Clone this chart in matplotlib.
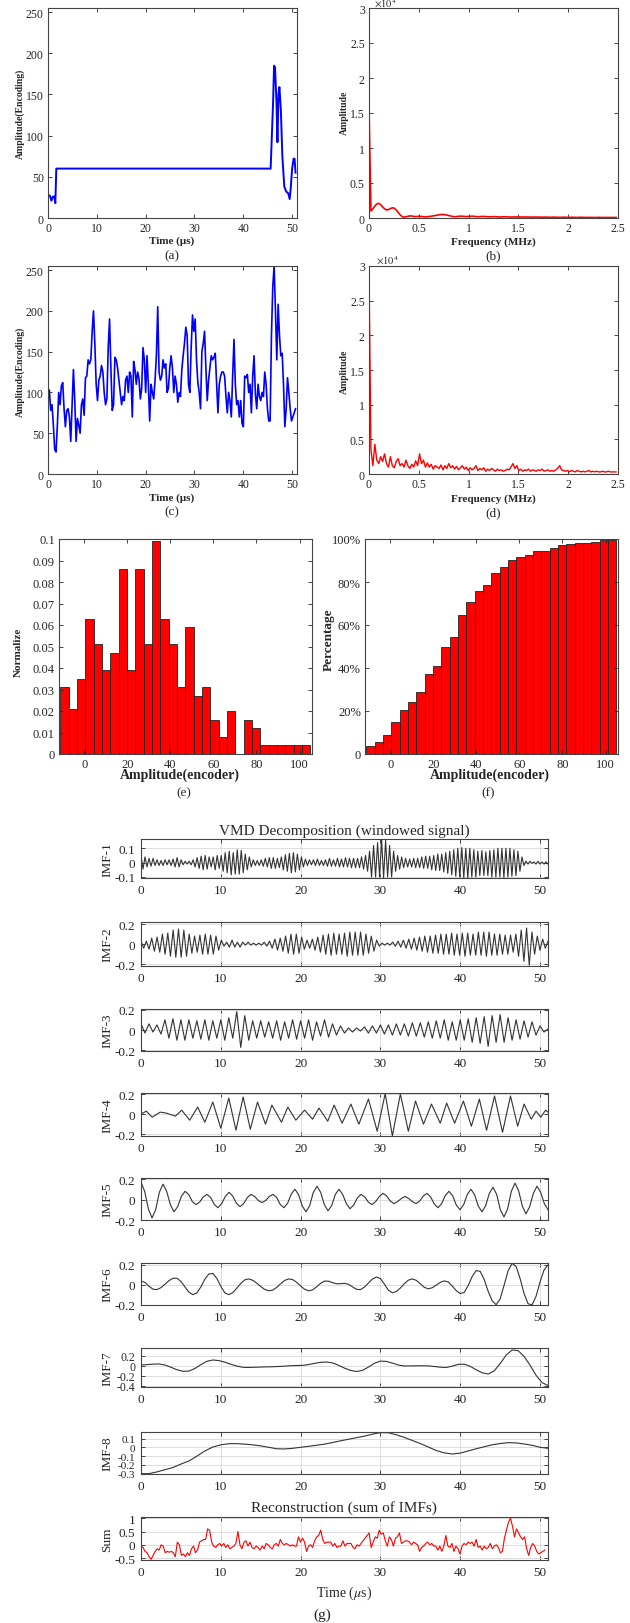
import numpy as np
import matplotlib
matplotlib.use('Agg')
import matplotlib.pyplot as plt
from matplotlib.ticker import FuncFormatter

plt.rcParams['font.family'] = ['Liberation Serif', 'DejaVu Serif']
plt.rcParams['mathtext.fontset'] = 'stix'
plt.rcParams['axes.unicode_minus'] = False

# ---- raw signal (window 1), encoder units
raw_t = [0, 0.4, 0.7, 1.0, 1.3, 1.5, 1.7, 45.6, 46.1, 46.3, 46.5, 46.8, 47.0, 47.2, 47.4, 47.7,
         48.0, 48.4, 48.8, 49.2, 49.5, 49.7, 50.0, 50.3, 50.5, 50.7]
raw_v = [28, 27, 21, 26, 26, 18, 60, 60, 140, 185, 183, 140, 92, 150, 159, 130,
         75, 38, 32, 30, 23, 35, 60, 72, 72, 55]

# ---- windowed signal, encoder units
win_v = [100, 103, 78, 85, 60, 30, 27, 60, 100, 85, 108, 112, 80, 58, 78, 80, 70, 40, 85, 128,
         90, 40, 68, 60, 50, 85, 92, 72, 118, 120, 140, 135, 140, 175, 200, 160, 110, 90, 115, 120,
         133, 125, 100, 85, 92, 155, 190, 130, 78, 85, 143, 140, 130, 115, 100, 85, 95, 90, 115, 120,
         100, 125, 120, 70, 138, 128, 110, 125, 117, 92, 105, 155, 140, 100, 145, 110, 65, 110, 100, 92,
         115, 145, 205, 125, 115, 120, 140, 130, 135, 100, 105, 130, 145, 130, 100, 120, 110, 88, 100, 95,
         128, 145, 160, 180, 170, 110, 100, 155, 195, 175, 190, 140, 112, 100, 80, 150, 160, 175, 130, 90,
         115, 130, 145, 140, 143, 148, 110, 75, 110, 120, 125, 125, 120, 95, 75, 100, 90, 70, 120, 165,
         110, 85, 90, 70, 90, 62, 58, 120, 118, 122, 100, 110, 75, 120, 145, 98, 80, 110, 95, 90,
         100, 95, 125, 110, 80, 65, 65, 170, 230, 255, 200, 140, 208, 170, 145, 148, 110, 58, 80, 118,
         100, 80, 65, 70, 75, 80]

# ---- amplitude spectra (x 1e4), bins of 5/256 MHz
spec_raw = [1.58, 0.10, 0.13, 0.17, 0.20, 0.21, 0.19, 0.16, 0.13, 0.115, 0.12, 0.135, 0.145, 0.14, 0.115, 0.08,
            0.045, 0.02, 0.012, 0.018, 0.025, 0.03, 0.028, 0.022, 0.02, 0.022, 0.025, 0.022, 0.018, 0.015, 0.018, 0.022,
            0.025, 0.03, 0.035, 0.04, 0.045, 0.05, 0.05, 0.048, 0.042, 0.035, 0.028, 0.022, 0.018, 0.02, 0.024, 0.026,
            0.025, 0.022, 0.02, 0.022, 0.025, 0.026, 0.024, 0.02, 0.018, 0.02, 0.022, 0.022, 0.02, 0.017, 0.016, 0.018,
            0.02, 0.019, 0.016, 0.014, 0.015, 0.017, 0.018, 0.016, 0.014, 0.013, 0.015, 0.016, 0.015, 0.013, 0.012, 0.013,
            0.015, 0.014, 0.012, 0.011, 0.012, 0.014, 0.013, 0.011, 0.01, 0.011, 0.013, 0.012, 0.01, 0.01, 0.011, 0.012,
            0.011, 0.01, 0.009, 0.01, 0.011, 0.01, 0.009, 0.009, 0.01, 0.01, 0.009, 0.008, 0.009, 0.01, 0.009, 0.008,
            0.008, 0.009, 0.009, 0.008, 0.007, 0.008, 0.009, 0.008, 0.007, 0.007, 0.008, 0.008, 0.007, 0.007, 0.008, 0.008]
spec_win = [2.90, 0.35, 0.12, 0.43, 0.20, 0.15, 0.25, 0.18, 0.29, 0.15, 0.10, 0.25, 0.12, 0.09, 0.18, 0.22,
            0.12, 0.15, 0.10, 0.20, 0.12, 0.08, 0.14, 0.10, 0.19, 0.12, 0.29, 0.15, 0.20, 0.10, 0.16, 0.10,
            0.14, 0.07, 0.12, 0.10, 0.08, 0.13, 0.06, 0.12, 0.08, 0.15, 0.09, 0.12, 0.07, 0.11, 0.06, 0.09,
            0.12, 0.07, 0.10, 0.05, 0.09, 0.06, 0.08, 0.12, 0.05, 0.08, 0.06, 0.09, 0.04, 0.07, 0.05, 0.08,
            0.06, 0.04, 0.07, 0.05, 0.06, 0.04, 0.05, 0.07, 0.06, 0.10, 0.15, 0.08, 0.12, 0.05, 0.07, 0.04,
            0.06, 0.05, 0.07, 0.04, 0.06, 0.05, 0.04, 0.06, 0.05, 0.07, 0.04, 0.05, 0.06, 0.04, 0.05, 0.04,
            0.06, 0.08, 0.12, 0.06, 0.05, 0.04, 0.05, 0.03, 0.05, 0.04, 0.03, 0.05, 0.04, 0.03, 0.04, 0.03,
            0.04, 0.05, 0.03, 0.04, 0.03, 0.04, 0.03, 0.03, 0.04, 0.03, 0.03, 0.04, 0.03, 0.03, 0.03, 0.03]

# ---- histogram of windowed amplitudes (30 bins)
hist_norm = [0.031, 0.021, 0.035, 0.063, 0.051, 0.039, 0.047, 0.086, 0.039, 0.086,
             0.051, 0.099, 0.063, 0.051, 0.031, 0.059, 0.027, 0.031, 0.016, 0.008,
             0.020, 0.0, 0.016, 0.012, 0.004, 0.004, 0.004, 0.004, 0.004, 0.004]
hist_cum = [3.6, 5.4, 9.0, 15.0, 20.3, 24.0, 28.7, 37.3, 40.9, 49.7,
            54.5, 64.5, 70.7, 75.7, 78.6, 84.3, 87.1, 90.3, 91.8, 92.6,
            94.4, 94.4, 96.0, 97.1, 97.6, 98.0, 98.3, 98.8, 99.4, 99.7]

# ---- VMD modes
imf1 = [0.05, -0.045, 0.04, -0.03, 0.03, -0.025, 0.03, -0.02, 0.02, -0.02, 0.015, -0.02, 0.02, -0.015, 0.02, -0.02,
        0.025, -0.03, 0.035, -0.03, 0.02, -0.015, 0.01, -0.01, 0.01, -0.015, 0.02, -0.03, 0.035, -0.04, 0.045, -0.05,
        0.05, -0.045, 0.04, -0.03, 0.04, -0.05, 0.05, -0.04, 0.05, -0.06, 0.07, -0.07, 0.08, -0.085, 0.07, -0.08,
        0.09, -0.08, 0.085, -0.07, 0.06, -0.05, 0.04, -0.03, 0.02, -0.02, 0.015, -0.02, 0.02, -0.025, 0.03, -0.03,
        0.035, -0.04, 0.035, -0.04, 0.03, -0.035, 0.04, -0.05, 0.055, -0.06, 0.065, -0.07, 0.07, -0.065, 0.06, -0.05,
        0.04, -0.03, 0.025, -0.02, 0.02, -0.015, 0.02, -0.02, 0.025, -0.02, 0.015, -0.02, 0.02, -0.025, 0.03, -0.025,
        0.02, -0.025, 0.03, -0.03, 0.025, -0.03, 0.035, -0.03, 0.03, -0.035, 0.03, -0.035, 0.03, -0.035, 0.04, -0.045,
        0.05, -0.06, 0.08, -0.1, 0.12, -0.1, 0.14, -0.1, 0.165, -0.105, 0.155, -0.1, 0.12, -0.1, 0.08, -0.06,
        0.05, -0.045, 0.04, -0.035, 0.03, -0.03, 0.025, -0.03, 0.03, -0.035, 0.03, -0.035, 0.04, -0.04, 0.045, -0.04,
        0.045, -0.05, 0.05, -0.055, 0.06, -0.055, 0.06, -0.065, 0.07, -0.075, 0.08, -0.085, 0.09, -0.095, 0.1, -0.1,
        0.105, -0.105, 0.1, -0.107, 0.1, -0.1, 0.09, -0.1, 0.08, -0.09, 0.085, -0.09, 0.075, -0.09, 0.085, -0.1,
        0.09, -0.1, 0.1, -0.1, 0.1, -0.105, 0.1, -0.1, 0.1, -0.095, 0.09, -0.09, 0.08, -0.06, 0.04, -0.02,
        0.01, -0.01, 0.01, -0.005, 0.005, -0.01, 0.01, -0.01, 0.005, -0.01, 0.005, -0.01]
imf2 = [0.03, -0.04, 0.03, -0.05, 0.06, -0.07, 0.07, -0.08, 0.1, -0.1, 0.11, -0.12, 0.14, -0.13, 0.15,
        -0.13, 0.14, -0.12, 0.1, -0.09, 0.08, -0.08, 0.09, -0.1, 0.1, -0.1, 0.09, -0.1, 0.08, -0.06,
        0.04, -0.02, 0.02, -0.03, 0.04, -0.03, 0.02, -0.03, 0.02, -0.01, 0.02, -0.01, 0.01, -0.01, 0.01,
        -0.01, 0.02, -0.02, 0.03, -0.04, 0.05, -0.06, 0.06, -0.07, 0.08, -0.09, 0.1, -0.1, 0.1, -0.09,
        0.07, -0.05, 0.04, -0.04, 0.05, -0.06, 0.07, -0.08, 0.09, -0.1, 0.1, -0.11, 0.11, -0.1, 0.1,
        -0.1, 0.11, -0.12, 0.12, -0.11, 0.12, -0.11, 0.12, -0.11, 0.1, -0.09, 0.08, -0.07, 0.04, -0.02,
        0.01, -0.01, 0.01, -0.01, 0.02, -0.02, 0.03, -0.03, 0.04, -0.04, 0.05, -0.05, 0.06, -0.06, 0.07,
        -0.07, 0.08, -0.08, 0.08, -0.09, 0.09, -0.09, 0.1, -0.1, 0.1, -0.1, 0.11, -0.11, 0.1, -0.11,
        0.11, -0.12, 0.11, -0.11, 0.1, -0.11, 0.12, -0.11, 0.12, -0.12, 0.12, -0.11, 0.1, -0.11, 0.1,
        -0.1, 0.09, -0.1, 0.09, -0.08, 0.1, -0.12, 0.14, -0.17, 0.16, -0.21, 0.12, -0.1, 0.08, -0.06,
        0.05, -0.04, 0.03]
imf3 = [0.06, -0.03, 0.06, -0.02, 0.05, -0.04, 0.1, -0.08, 0.11, -0.1, 0.1, -0.1, 0.1, -0.08, 0.09, -0.09,
        0.1, -0.1, 0.09, -0.08, 0.1, -0.1, 0.12, -0.08, 0.18, -0.17, 0.14, -0.1, 0.09, -0.08, 0.09, -0.07,
        0.08, -0.08, 0.09, -0.1, 0.08, -0.08, 0.1, -0.09, 0.09, -0.08, 0.1, -0.1, 0.08, -0.06, 0.1, -0.07,
        0.06, -0.05, 0.04, -0.03, 0.02, -0.02, 0.02, -0.01, 0.03, -0.03, 0.04, -0.03, 0.05, -0.04, 0.05, -0.05,
        0.06, -0.05, 0.06, -0.06, 0.07, -0.06, 0.07, -0.07, 0.08, -0.08, 0.09, -0.08, 0.1, -0.1, 0.08, -0.1,
        0.1, -0.1, 0.11, -0.12, 0.12, -0.13, 0.13, -0.16, 0.14, -0.12, 0.15, -0.12, 0.12, -0.1, 0.1, -0.09,
        0.09, -0.07, 0.08, -0.05, 0.04, -0.02, 0.01]
imf4_t = [0, 0.66, 1.4, 2.4, 3.2, 4.3, 5.1, 6.1, 7.1, 8.0, 9.0, 10.0, 11.0, 11.9, 12.8, 13.7,
          14.6, 15.6, 16.4, 17.6, 18.4, 19.4, 20.5, 21.5, 22.3, 23.4, 24.2, 25.2, 26.3, 27.3, 28.5, 29.6,
          30.6, 31.5, 32.5, 33.5, 34.4, 35.4, 36.4, 37.5, 38.3, 39.3, 40.4, 41.4, 42.4, 43.3, 44.3, 45.3,
          46.3, 47.2, 48.0, 48.9, 49.5, 50.1, 50.7, 51.0]
imf4_v = [0, 0.03, -0.03, 0.02, 0.01, -0.02, 0.04, -0.06, 0.07, -0.08, 0.12, -0.14, 0.16, -0.16, 0.17, -0.15,
          0.12, -0.1, 0.09, -0.08, 0.07, -0.06, 0.04, -0.05, 0.06, -0.07, 0.09, -0.09, 0.1, -0.1, 0.15, -0.17,
          0.205, -0.215, 0.2, -0.17, 0.13, -0.1, 0.1, -0.09, 0.11, -0.09, 0.13, -0.12, 0.15, -0.16,
          0.18, -0.18, 0.18, -0.12, 0.1, -0.05, 0.03, -0.03, 0.04, 0.02]
imf5 = [0.17, 0.08, -0.09, -0.18, -0.1, 0.07, 0.15, 0.08, -0.05, -0.12, -0.07, 0.03, 0.08, 0.05, -0.02,
        -0.05, -0.025, 0.025, 0.05, 0.02, -0.05, -0.08, -0.04, 0.03, 0.07, 0.035, -0.035, -0.07, -0.04, 0.02,
        0.05, 0.03, -0.01, -0.03, -0.01, 0.03, 0.05, 0.02, -0.05, -0.08, -0.035, 0.055, 0.1, 0.045, -0.065,
        -0.12, -0.06, 0.07, 0.13, 0.07, -0.05, -0.11, -0.06, 0.05, 0.1, 0.05, -0.04, -0.09, -0.055, 0.015,
        0.05, 0.025, -0.025, -0.05, -0.02, 0.03, 0.06, 0.035, -0.015, -0.04, -0.02, 0.01, 0.03, 0.01, -0.02,
        -0.04, -0.015, 0.035, 0.06, 0.025, -0.045, -0.08, -0.04, 0.04, 0.08, 0.035, -0.055, -0.1, -0.05, 0.05,
        0.1, 0.045, -0.065, -0.12, -0.06, 0.06, 0.12, 0.05, -0.1, -0.17, -0.09, 0.08, 0.16, 0.085, -0.065,
        -0.14, -0.07, 0.06, 0.13, 0.07, -0.04, -0.1]
imf6 = [0.04, 0.024, -0.014, -0.044, -0.048, -0.028, 0.006, 0.042, 0.066, 0.067, 0.035, -0.02, -0.073, -0.099,
        -0.082, -0.021, 0.057, 0.109, 0.115, 0.065, -0.014, -0.081, -0.099, -0.078, -0.035, 0.014, 0.05, 0.06,
        0.046, 0.017, -0.017, -0.046, -0.06, -0.053, -0.026, 0.011, 0.044, 0.06, 0.053, 0.026, -0.011, -0.044,
        -0.06, -0.051, -0.021, 0.015, 0.038, 0.037, 0.022, 0.011, 0.012, 0.015, 0.006, -0.02, -0.045, -0.048,
        -0.023, 0.019, 0.059, 0.079, 0.063, 0.007, -0.054, -0.08, -0.067, -0.032, 0.012, 0.047, 0.06, 0.045,
        0.01, -0.025, -0.04, -0.029, -0.002, 0.025, 0.04, 0.029, -0.011, -0.058, -0.087, -0.077, -0.007, 0.084,
        0.144, 0.136, 0.054, -0.064, -0.16, -0.2, -0.143, -0.003, 0.14, 0.217, 0.186, 0.065, -0.087, -0.19,
        -0.202, -0.116, 0.028, 0.149, 0.2]
imf7 = [0.01, 0.018, 0.027, 0.03, 0.01, -0.035, -0.085, -0.116, -0.112, -0.06, 0.017, 0.084, 0.11, 0.098,
        0.067, 0.025, -0.011, -0.036, -0.039, -0.035, -0.031, -0.027, -0.025, -0.02, -0.013, -0.005, -0.001,
        0.003, 0.019, 0.043, 0.063, 0.07, 0.052, 0.004, -0.052, -0.098, -0.12, -0.098, -0.032, 0.044, 0.088,
        0.082, 0.048, 0.009, -0.01, -0.008, -0.006, -0.005, -0.007, -0.02, -0.034, -0.039, -0.013, 0.023,
        0.026, -0.016, -0.086, -0.145, -0.17, -0.109, 0.036, 0.207, 0.31, 0.298, 0.183, 0.007, -0.195, -0.342,
        -0.4]
imf8 = [-0.3, -0.3, -0.28, -0.255, -0.23, -0.19, -0.155, -0.1, -0.04, 0.005, 0.03, 0.043, 0.044, 0.038,
        0.03, 0.018, 0.002, -0.015, -0.017, -0.01, 0.002, 0.013, 0.025, 0.038, 0.056, 0.076, 0.094, 0.112,
        0.13, 0.152, 0.17, 0.168, 0.145, 0.115, 0.08, 0.045, 0.005, -0.035, -0.062, -0.075, -0.065, -0.04,
        -0.015, 0.008, 0.03, 0.045, 0.055, 0.052, 0.04, 0.025, 0.002, -0.01]
recon = [-0.05, -0.1, -0.25, -0.3, -0.45, -0.55, -0.4, -0.25, -0.15, -0.2, 0.0, -0.05, -0.3, -0.25, -0.28,
         -0.25, -0.3, -0.45, 0.1, 0.0, -0.4, -0.35, -0.45, -0.3, -0.4, -0.15, -0.05, -0.3, -0.2, 0.1,
         0.15, 0.2, 0.2, 0.6, 0.55, 0.1, -0.05, -0.1, 0.0, 0.05, -0.05, 0.05, -0.1, 0.0, -0.15,
         -0.1, -0.05, 0.05, 0.5, 0.0, -0.15, 0.1, 0.15, -0.05, 0.1, -0.1, -0.15, -0.05, -0.1, -0.2,
         -0.05, -0.15, 0.05, 0.0, -0.1, -0.15, 0.0, 0.05, -0.05, 0.2, 0.05, 0.0, 0.05, 0.0, -0.05,
         0.0, -0.05, -0.05, 0.3, 0.1, 0.25, 0.1, -0.25, -0.05, 0.0, -0.1, 0.15, 0.3, 0.35, 0.55,
         0.2, 0.05, 0.1, 0.1, 0.1, -0.05, 0.05, -0.1, -0.05, -0.05, 0.15, -0.05, 0.05, 0.05, 0.05,
         -0.1, -0.15, 0.0, -0.05, 0.05, 0.15, 0.25, 0.35, 0.45, -0.1, 0.1, 0.3, 0.25, 0.55, 0.4,
         0.45, 0.15, -0.05, 0.3, 0.2, -0.05, 0.25, 0.3, 0.45, 0.05, 0.1, 0.15, 0.15, 0.1, 0.0,
         0.1, 0.05, 0.0, -0.25, -0.1, -0.05, 0.05, 0.1, 0.0, 0.05, -0.05, -0.05, -0.2, -0.05, -0.25,
         -0.05, 0.35, -0.05, -0.1, 0.05, -0.25, -0.05, -0.15, -0.35, -0.05, 0.05, 0.0, 0.1, 0.05, 0.1,
         -0.05, 0.2, -0.1, -0.05, -0.2, -0.05, -0.15, -0.1, 0.05, -0.15, -0.05, 0.0, -0.1, -0.3, -0.25,
         0.25, 0.55, 0.85, 1.0, 0.7, 0.3, 0.6, 0.45, 0.3, 0.2, 0.3, -0.15, -0.4, -0.1, 0.05,
         -0.05, -0.25, -0.35, -0.3, -0.25, -0.2]

W, H = 630.0, 1624.0
fig = plt.figure(figsize=(6.3, 16.24), dpi=100)
fig.patch.set_facecolor('white')
TXT = '#262626'


def add_ax(l, t, r, b):
    # pixel box -> figure fraction
    return fig.add_axes([l / W, 1 - b / H, (r - l) / W, (b - t) / H])


def style(ax, fs, pad=3):
    ax.tick_params(direction='in', top=True, right=True, labelsize=fs, colors=TXT,
                   length=3, width=0.6, pad=pad)
    for s in ax.spines.values():
        s.set_color('#444444')
        s.set_linewidth(0.8)


def ftext(x, y, s, **kw):
    kw.setdefault('ha', 'center')
    kw.setdefault('va', 'center')
    kw.setdefault('color', TXT)
    fig.text(x / W, 1 - y / H, s, **kw)


fmt = FuncFormatter(lambda v, p: '0' if abs(v) < 1e-9 else '%g' % v)

# (a) raw signal
ax = add_ax(48, 9, 297, 219)
ax.plot(raw_t, raw_v, color='#0000ff', lw=1.4)
ax.set_xlim(0, 51)
ax.set_ylim(0, 255)
ax.set_xticks(range(0, 51, 10))
ax.set_yticks(range(0, 251, 50))
style(ax, 8.5)
ftext(172, 241, 'Time (μs)', fontsize=8, fontweight='bold')
ftext(20, 114, 'Amplitude(Encoding)', fontsize=7, fontweight='bold', rotation=90)
ftext(172, 256, '(a)', fontsize=9.5)

# (b) spectrum of raw signal
freq = np.arange(len(spec_raw)) * 5.0 / 256
ax = add_ax(369, 9, 618, 219)
ax.plot(freq, spec_raw, color='#ff0000', lw=1.2)
ax.set_xlim(0, 2.5)
ax.set_ylim(0, 3)
ax.set_xticks([0, 0.5, 1, 1.5, 2, 2.5])
ax.set_yticks([0, 0.5, 1, 1.5, 2, 2.5, 3])
ax.xaxis.set_major_formatter(fmt)
ax.yaxis.set_major_formatter(fmt)
style(ax, 8.5)
ftext(385, 4, r'$\times10^4$', fontsize=7.5)
ftext(493, 242, 'Frequency (MHz)', fontsize=8, fontweight='bold')
ftext(344, 113, 'Amplitude', fontsize=7, fontweight='bold', rotation=90)
ftext(493, 256, '(b)', fontsize=9.5)

# (c) windowed signal
ax = add_ax(48, 267, 297, 475)
ax.plot(np.linspace(0, 50.7, len(win_v)), win_v, color='#0000ff', lw=1.2)
ax.set_xlim(0, 51)
ax.set_ylim(0, 255)
ax.set_xticks(range(0, 51, 10))
ax.set_yticks(range(0, 251, 50))
style(ax, 8.5)
ftext(172, 498, 'Time (μs)', fontsize=8, fontweight='bold')
ftext(20, 372, 'Amplitude(Encoding)', fontsize=7, fontweight='bold', rotation=90)
ftext(172, 512, '(c)', fontsize=9.5)

# (d) spectrum of windowed signal
ax = add_ax(369, 267, 618, 475)
ax.plot(freq, spec_win, color='#ff0000', lw=1.0)
ax.set_xlim(0, 2.5)
ax.set_ylim(0, 3)
ax.set_xticks([0, 0.5, 1, 1.5, 2, 2.5])
ax.set_yticks([0, 0.5, 1, 1.5, 2, 2.5, 3])
ax.xaxis.set_major_formatter(fmt)
ax.yaxis.set_major_formatter(fmt)
style(ax, 8.5)
ftext(387, 261, r'$\times10^4$', fontsize=7.5)
ftext(493, 499, 'Frequency (MHz)', fontsize=8, fontweight='bold')
ftext(344, 372, 'Amplitude', fontsize=7, fontweight='bold', rotation=90)
ftext(493, 513, '(d)', fontsize=9.5)

# (e) normalised histogram, (f) cumulative
edges = np.linspace(-11.2, 105.1, len(hist_norm) + 1)
ax = add_ax(59, 540, 312, 755)
ax.bar(edges[:-1], hist_norm, width=np.diff(edges), align='edge',
       color='#ff0000', edgecolor='#222222', linewidth=0.6)
ax.set_xlim(-11.8, 105.8)
ax.set_ylim(0, 0.1)
ax.set_xticks(range(0, 101, 20))
ax.set_yticks(np.arange(0, 0.1001, 0.01))
ax.yaxis.set_major_formatter(FuncFormatter(lambda v, p: '0' if v < 1e-9 else ('0.1' if v > 0.0999 else '%.2f' % v)))
style(ax, 9)
ftext(180, 775, 'Amplitude(encoder)', fontsize=10, fontweight='bold')
ftext(18, 652, 'Normalize', fontsize=8, fontweight='bold', rotation=90)
ftext(184, 793, '(e)', fontsize=9.5)

ax = add_ax(365, 540, 618, 755)
ax.bar(edges[:-1], hist_cum, width=np.diff(edges), align='edge',
       color='#ff0000', edgecolor='#222222', linewidth=0.6)
ax.set_xlim(-11.8, 105.8)
ax.set_ylim(0, 100)
ax.set_xticks(range(0, 101, 20))
ax.set_yticks(range(0, 101, 20))
ax.yaxis.set_major_formatter(FuncFormatter(lambda v, p: '0' if v < 1e-9 else '%d%%' % v))
style(ax, 9)
ftext(490, 775, 'Amplitude(encoder)', fontsize=10, fontweight='bold')
ftext(329, 640, 'Percentage', fontsize=9.5, fontweight='bold', rotation=90)
ftext(488, 793, '(f)', fontsize=9.5)

# (g) VMD modes + reconstruction
panels = [
    ('IMF-1', None, imf1, (-0.107, 0.165), [-0.1, 0, 0.1], 840, 879, 9.5),
    ('IMF-2', None, imf2, (-0.217, 0.22), [-0.2, 0, 0.2], 923, 967, 9.5),
    ('IMF-3', None, imf3, (-0.205, 0.205), [-0.2, 0, 0.2], 1010, 1052, 9.5),
    ('IMF-4', imf4_t, imf4_v, (-0.217, 0.21), [-0.2, 0, 0.2], 1094, 1137, 9.5),
    ('IMF-5', None, imf5, (-0.2, 0.21), [-0.2, 0, 0.2], 1179, 1221, 9.5),
    ('IMF-6', None, imf6, (-0.203, 0.22), [-0.2, 0, 0.2], 1264, 1306, 9.5),
    ('IMF-7', None, imf7, (-0.43, 0.35), [-0.4, -0.2, 0, 0.2], 1349, 1388, 8.5),
    ('IMF-8', None, imf8, (-0.304, 0.177), [-0.3, -0.2, -0.1, 0, 0.1], 1433, 1475, 8),
    ('Sum', None, recon, (-0.575, 1.05), [-0.5, 0, 0.5, 1], 1518, 1561, 9.5),
]
for name, tt, vv, yl, yt, top, bot, yfs in panels:
    ax = add_ax(141, top, 548, bot)
    if tt is None:
        tt = np.linspace(0, 51 if name != 'Sum' else 50.6, len(vv))
    col = '#ff0000' if name == 'Sum' else '#333333'
    ax.plot(tt, vv, color=col, lw=0.8)
    ax.set_xlim(0, 51)
    ax.set_ylim(*yl)
    ax.set_xticks(range(0, 51, 10))
    ax.set_yticks(yt)
    ax.yaxis.set_major_formatter(fmt)
    ax.grid(True, color='#d8d8d8', lw=0.6)
    ax.set_axisbelow(True)
    style(ax, 9.5, pad=4)
    ax.tick_params(axis='y', labelsize=yfs)
    ftext(107, (top + bot) / 2, name, fontsize=9.5, rotation=90)

ftext(344, 831, 'VMD Decomposition (windowed signal)', fontsize=11)
ftext(344, 1508, 'Reconstruction (sum of IMFs)', fontsize=11)
ftext(344, 1593, r'Time ($\mu$s)', fontsize=10)
ftext(322, 1615, '(g)', fontsize=11)

fig.savefig('out.png', dpi=100, facecolor='white')
